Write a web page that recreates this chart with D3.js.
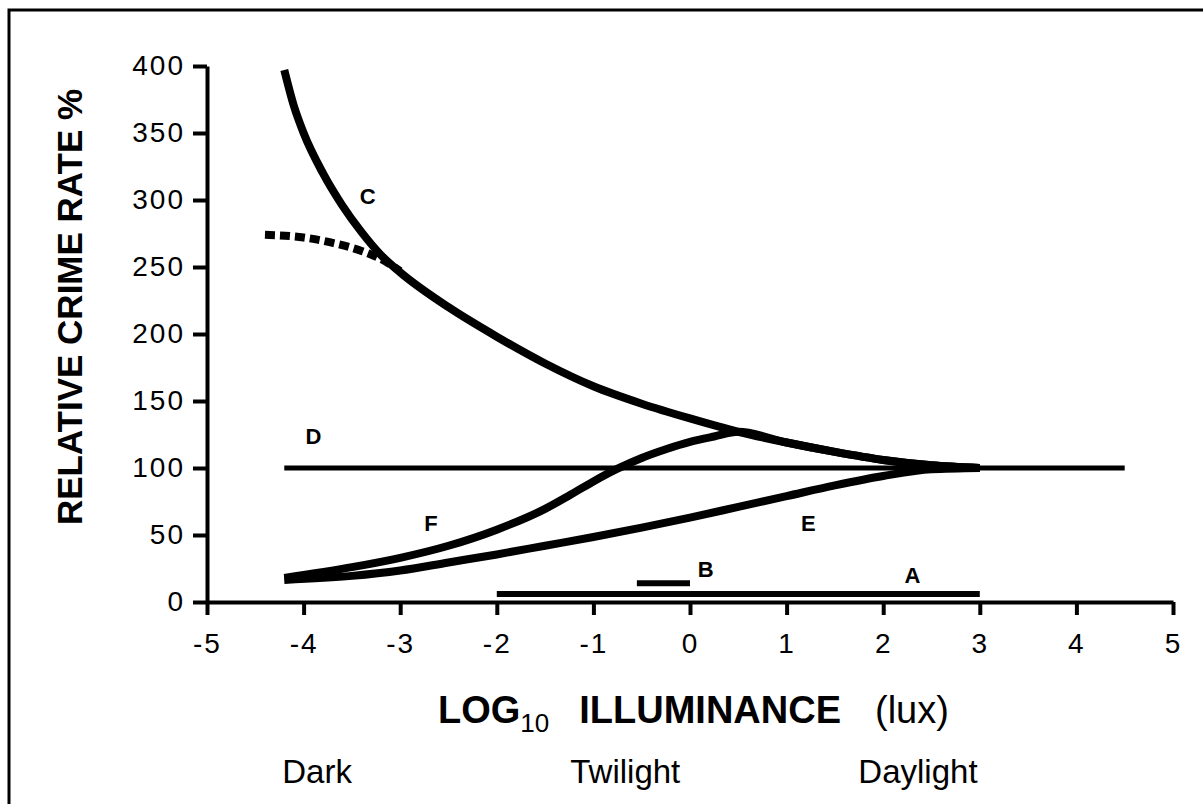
<!DOCTYPE html>
<html lang="en">
<head>
<meta charset="UTF-8">
<title>Relative crime rate vs illuminance</title>
<style>
  body { margin: 0; background: #fff; }
  svg { display: block; }
</style>
</head>
<body>
<div id="chart"></div>
<script src="https://d3js.org/d3.v7.min.js"></script>
<script>
// points are [log10 illuminance (lux), relative crime rate %]
var curveC = [[-4.2, 397], [-4.1, 370], [-4.0, 350], [-3.8, 320], [-3.6, 296], [-3.4, 276],
              [-3.2, 259], [-3.0, 246], [-2.5, 220], [-2, 198], [-1.5, 178], [-1, 161],
              [-0.5, 148], [0, 137], [0.5, 127], [1, 119], [1.5, 112], [2, 106], [2.5, 102], [3, 100]];
var curveCdash = [[-4.4, 274], [-4.0, 272], [-3.7, 268], [-3.4, 262], [-3.2, 256], [-3.0, 247]];
var curveE = [[-4.2, 16.5], [-3.5, 19.5], [-3, 23.5], [-2.5, 29.5], [-2, 35.5], [-1.5, 42], [-1, 48.5],
              [-0.5, 55.5], [0, 63], [0.5, 71], [1, 79], [1.5, 87], [2, 94], [2.5, 99], [3, 100]];
var curveF = [[-4.2, 18], [-3.5, 26], [-3, 33], [-2.5, 42], [-2, 54], [-1.5, 69.5], [-1.25, 79.5],
              [-1, 90], [-0.75, 99.5], [-0.5, 107.5], [-0.25, 114], [0, 119.5], [0.25, 123.5],
              [0.5, 127], [1, 119], [1.5, 112], [2, 106], [2.5, 102], [3, 100]];
var lineD = [[-4.2, 100], [4.5, 100]];
var barA = [[-2, 6], [3, 6]];
var barB = [[-0.55, 14], [0, 14]];

var xTicks = [-5, -4, -3, -2, -1, 0, 1, 2, 3, 4, 5];
var yTicks = [0, 50, 100, 150, 200, 250, 300, 350, 400];

// curve letters, placed in data units
var letters = [["C", -3.42, 297], ["D", -3.98, 118], ["F", -2.75, 53], ["E", 1.15, 53],
               ["B", 0.08, 18.5], ["A", 2.22, 14]];
var bands = [["Dark", -3.86], ["Twilight", -0.67], ["Daylight", 2.36]];

var W = 1203, H = 804;
var margin = {top: 66, right: 30, bottom: 202, left: 207};
var width = 1173 - margin.left, height = 602 - margin.top;
var font = "'Liberation Sans', Arial, Helvetica, sans-serif";

var svg = d3.select("#chart").append("svg")
    .attr("width", W)
    .attr("height", H);

// frame (only top and left edges fall inside the picture)
svg.append("rect")
    .attr("x", 9).attr("y", 10)
    .attr("width", W + 20).attr("height", H + 20)
    .attr("fill", "none").attr("stroke", "#000").attr("stroke-width", 3);

var g = svg.append("g")
    .attr("transform", "translate(" + margin.left + "," + margin.top + ")");

var x = d3.scaleLinear().domain([-5, 5]).range([0, width]);
var y = d3.scaleLinear().domain([0, 400]).range([height, 0]);

// axes
var xAxis = g.append("g")
    .attr("transform", "translate(0," + height + ")")
    .call(d3.axisBottom(x).tickValues(xTicks).tickSize(13).tickSizeOuter(0).tickPadding(18)
        .tickFormat(d3.format("d")));
var yAxis = g.append("g")
    .call(d3.axisLeft(y).tickValues(yTicks).tickSize(14).tickSizeOuter(0).tickPadding(8));

[xAxis, yAxis].forEach(function(a) {
    a.attr("font-family", font).attr("font-size", 28);
    a.select(".domain").attr("stroke", "#000").attr("stroke-width", 4);
    a.selectAll(".tick line").attr("stroke", "#000").attr("stroke-width", 4);
    a.selectAll(".tick text").attr("fill", "#000").attr("letter-spacing", 2);
});
xAxis.selectAll(".tick text").text(function(d) { return d < 0 ? "-" + (-d) : d; });

var line = d3.line()
    .x(function(d) { return x(d[0]); })
    .y(function(d) { return y(d[1]); })
    .curve(d3.curveMonotoneX);

var plot = g.append("g").attr("fill", "none").attr("stroke", "#000");

plot.append("path").datum(lineD).attr("d", line).attr("stroke-width", 5);
plot.append("path").datum(barA).attr("d", line).attr("stroke-width", 6);
plot.append("path").datum(barB).attr("d", line).attr("stroke-width", 6);
plot.append("path").datum(curveCdash).attr("d", line).attr("stroke-width", 8)
    .attr("stroke-dasharray", "10,5");
[curveC, curveE, curveF].forEach(function(c) {
    plot.append("path").datum(c).attr("d", line).attr("stroke-width", 8);
});

// letters next to the curves
g.selectAll(".letter").data(letters).enter()
    .append("text")
    .attr("class", "letter")
    .attr("x", function(d) { return x(d[1]); })
    .attr("y", function(d) { return y(d[2]); })
    .attr("font-family", font).attr("font-size", 22).attr("font-weight", "bold")
    .text(function(d) { return d[0]; });

// axis titles
svg.append("text")
    .attr("transform", "translate(82," + (margin.top + height / 2 - 27) + ") rotate(-90)")
    .attr("text-anchor", "middle")
    .attr("font-family", font).attr("font-size", 35).attr("font-weight", "bold")
    .text("RELATIVE CRIME RATE %");

var xt = svg.append("text")
    .attr("x", 438).attr("y", 723)
    .attr("font-family", font).attr("font-size", 38);
xt.append("tspan").attr("font-weight", "bold").text("LOG");
xt.append("tspan").attr("font-size", 26).attr("dy", 9).text("10");
xt.append("tspan").attr("font-weight", "bold").attr("dy", -9).attr("dx", 30).text("ILLUMINANCE");
xt.append("tspan").attr("dx", 34).text("(lux)");

// light bands under the axis
g.selectAll(".band").data(bands).enter()
    .append("text")
    .attr("class", "band")
    .attr("x", function(d) { return x(d[1]); })
    .attr("y", 783 - margin.top)
    .attr("text-anchor", "middle")
    .attr("font-family", font).attr("font-size", 33)
    .text(function(d) { return d[0]; });
</script>
</body>
</html>
